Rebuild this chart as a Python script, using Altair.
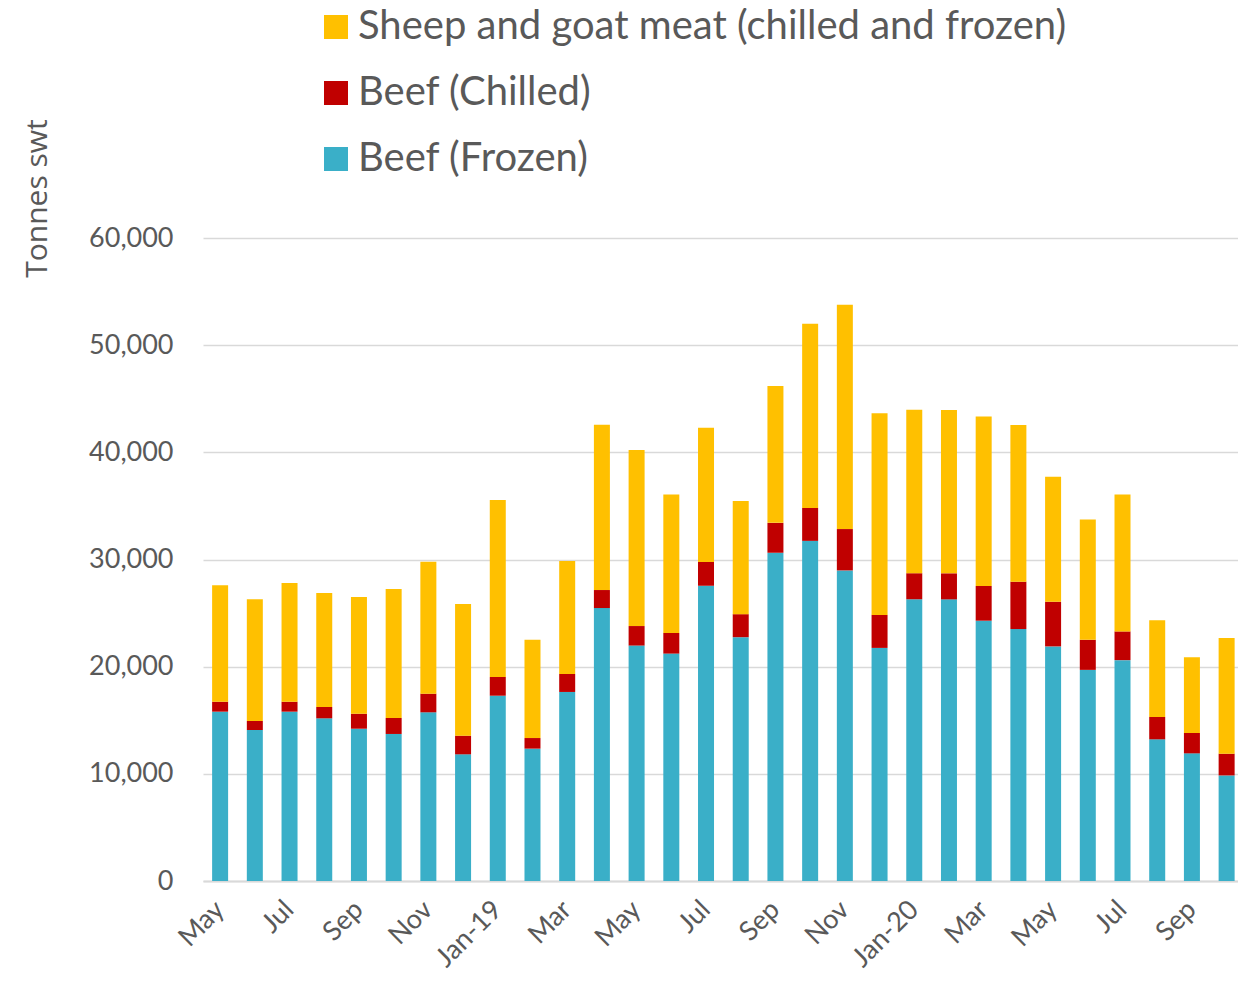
import altair as alt
import pandas as pd

months = ["2018-05","2018-06","2018-07","2018-08","2018-09","2018-10","2018-11","2018-12",
          "2019-01","2019-02","2019-03","2019-04","2019-05","2019-06","2019-07","2019-08",
          "2019-09","2019-10","2019-11","2019-12","2020-01","2020-02","2020-03","2020-04",
          "2020-05","2020-06","2020-07","2020-08","2020-09","2020-10"]
tick_labels = ["May","","Jul","","Sep","","Nov","","Jan-19","","Mar","","May","","Jul","",
               "Sep","","Nov","","Jan-20","","Mar","","May","","Jul","","Sep",""]

beef_frozen = [15800,14090,15800,15180,14210,13720,15740,11820,17290,12350,17640,25470,
               21970,21220,27550,22750,30630,31740,28980,21750,26290,26280,24290,23510,
               21890,19700,20610,13220,11910,9850]
beef_chilled = [930,840,930,1060,1400,1490,1740,1740,1750,990,1680,1680,
                1820,1930,2220,2150,2790,3070,3860,3080,2430,2430,3240,4420,
                4170,2810,2680,2090,1900,2030]
sheep_goat = [10860,11360,11080,10630,10890,12040,12320,12290,16510,9180,10540,15430,
              16420,12910,12520,10560,12770,17180,20930,18820,15250,15250,15810,14630,
              11660,11220,12780,9010,7080,10790]

series_names = ["Sheep and goat meat (chilled and frozen)", "Beef (Chilled)", "Beef (Frozen)"]
series_colors = ["#FFC000", "#C00000", "#3AAFC8"]
stack_rank = {"Beef (Frozen)": 0, "Beef (Chilled)": 1,
              "Sheep and goat meat (chilled and frozen)": 2}

rows = []
for i, m in enumerate(months):
    for name, vals in (("Beef (Frozen)", beef_frozen), ("Beef (Chilled)", beef_chilled),
                       ("Sheep and goat meat (chilled and frozen)", sheep_goat)):
        rows.append({"idx": i, "series": name, "value": vals[i], "rank": stack_rank[name]})
df = pd.DataFrame(rows)

label_expr = "[" + ",".join("'" + t + "'" for t in tick_labels) + "][datum.value]"

FONT = "Lato"
GREY = "#595959"

chart = alt.Chart(df).mark_bar().encode(
    x=alt.X("idx:O", scale=alt.Scale(paddingInner=0.539, paddingOuter=0.18, align=0.73),
            axis=alt.Axis(title=None, labelExpr=label_expr, labelAngle=-45,
                          labelAlign="right", labelBaseline="top",
                          labelFontSize=27, labelColor=GREY, labelFont=FONT,
                          ticks=False, domainColor="#D9D9D9", domainWidth=2,
                          labelPadding=15, labelOffset=-9, labelOverlap=False)),
    y=alt.Y("value:Q", stack="zero",
            scale=alt.Scale(domain=[0, 60000], nice=False),
            axis=alt.Axis(values=[0,10000,20000,30000,40000,50000,60000], format=",.0f",
                          title="Tonnes swt", titleAngle=-90, titleX=-166, titleY=-40,
                          titleAlign="center", titleBaseline="middle",
                          titleFont="Open Sans", titleFontSize=30, titleFontWeight="normal",
                          titleColor=GREY, labelFontSize=27, labelColor=GREY,
                          labelFont=FONT, labelPadding=30, ticks=False, domain=False,
                          gridColor="#D9D9D9", gridWidth=1.5)),
    color=alt.Color("series:N",
                    scale=alt.Scale(domain=series_names, range=series_colors),
                    legend=alt.Legend(title=None, orient="none", legendX=113, legendY=-231,
                                      symbolType="square", symbolSize=576,
                                      symbolStrokeWidth=0, labelFontSize=40,
                                      labelFont=FONT, labelColor=GREY, labelOffset=2,
                                      rowPadding=26, labelLimit=1000)),
    order=alt.Order("rank:Q", sort="ascending"),
).properties(
    width=1035, height=643,
    autosize=alt.AutoSizeParams(type="none"),
    padding={"left": 195, "top": 230, "right": 0, "bottom": 100},
).configure_view(stroke=None)

chart.save("out.html", embed_options={"renderer": "svg", "actions": False})
